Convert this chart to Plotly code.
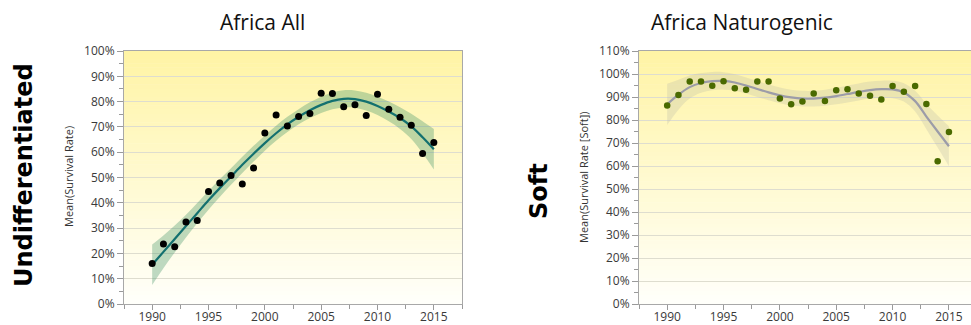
import plotly.graph_objects as go

W, H = 971, 325

years = list(range(1990, 2016))

# Africa All (Undifferentiated) - mean survival rate, %
all_points = [16.0, 23.7, 22.6, 32.4, 33.0, 44.5, 47.8, 50.8, 47.4, 53.8,
              67.6, 74.7, 70.4, 74.1, 75.3, 83.3, 83.2, 78.0, 78.8, 74.5,
              82.9, 77.0, 73.8, 70.7, 59.5, 63.8]
all_fit = [15.5, 20.6, 25.7, 30.8, 35.9, 41.0, 45.8, 50.4, 55.0, 59.4,
           63.6, 67.5, 71.0, 74.0, 76.6, 78.7, 80.3, 81.1, 81.0, 80.0,
           78.3, 76.1, 73.5, 70.2, 65.9, 61.2]
all_low = [7.5, 14.1, 20.4, 26.3, 31.9, 37.3, 42.3, 47.1, 51.8, 56.3,
           60.6, 64.5, 68.0, 71.0, 73.5, 75.5, 77.0, 77.7, 77.6, 76.5,
           74.7, 72.2, 69.2, 65.2, 59.6, 53.2]
all_high = [23.5, 27.1, 31.0, 35.3, 39.9, 44.7, 49.3, 53.7, 58.2, 62.5,
            66.6, 70.5, 74.0, 77.0, 79.7, 81.9, 83.6, 84.5, 84.4, 83.5,
            81.9, 80.0, 77.8, 75.2, 72.2, 69.2]

# Africa Naturogenic (Soft) - mean survival rate, %
soft_points = [86.3, 90.9, 96.7, 96.7, 94.9, 96.8, 93.8, 93.1, 96.7, 96.7,
               89.4, 86.8, 88.0, 91.5, 88.3, 92.9, 93.4, 91.5, 90.5, 88.9,
               94.8, 92.3, 94.8, 87.0, 62.1, 74.8]
soft_fit = [86.8, 91.0, 94.3, 96.1, 96.9, 97.0, 96.3, 95.0, 93.5, 92.0,
            90.7, 89.8, 89.3, 89.3, 89.7, 90.4, 91.3, 92.2, 93.0, 93.4,
            93.3, 92.0, 88.2, 81.5, 75.0, 68.6]
soft_low = [77.8, 84.5, 89.3, 91.8, 92.9, 93.2, 92.7, 91.5, 90.0, 88.6,
            87.3, 86.4, 85.9, 85.9, 86.2, 86.8, 87.6, 88.5, 89.3, 89.7,
            89.5, 88.0, 83.7, 76.0, 68.0, 59.9]
soft_high = [95.8, 97.5, 99.3, 100.4, 100.9, 100.8, 99.9, 98.5, 97.0, 95.4,
             94.1, 93.2, 92.7, 92.7, 93.2, 94.0, 95.0, 95.9, 96.7, 97.1,
             97.1, 96.0, 92.7, 87.0, 82.0, 77.3]

titles = ["Africa All", "Africa Naturogenic"]
row_labels = ["Undifferentiated", "Soft"]
y_titles = ["Mean(Survival Rate)", "Mean(Survival Rate [Soft])"]

FONT = "Open Sans"

def px_x(p):
    return p / W

def px_y(p):
    return 1 - p / H

fig = go.Figure()

# left panel traces
fig.add_trace(go.Scatter(x=years, y=all_high, mode="lines", line=dict(width=0, shape="spline"),
                         hoverinfo="skip", showlegend=False, xaxis="x", yaxis="y"))
fig.add_trace(go.Scatter(x=years, y=all_low, mode="lines", line=dict(width=0, shape="spline"),
                         fill="tonexty", fillcolor="rgba(70,150,105,0.35)",
                         hoverinfo="skip", showlegend=False, xaxis="x", yaxis="y"))
fig.add_trace(go.Scatter(x=years, y=all_fit, mode="lines",
                         line=dict(color="#13706f", width=2.2, shape="spline"),
                         showlegend=False, xaxis="x", yaxis="y"))
fig.add_trace(go.Scatter(x=years, y=all_points, mode="markers",
                         marker=dict(color="#000000", size=7),
                         showlegend=False, xaxis="x", yaxis="y"))

# right panel traces
fig.add_trace(go.Scatter(x=years, y=soft_high, mode="lines", line=dict(width=0, shape="spline"),
                         hoverinfo="skip", showlegend=False, xaxis="x2", yaxis="y2"))
fig.add_trace(go.Scatter(x=years, y=soft_low, mode="lines", line=dict(width=0, shape="spline"),
                         fill="tonexty", fillcolor="rgba(190,190,170,0.30)",
                         hoverinfo="skip", showlegend=False, xaxis="x2", yaxis="y2"))
fig.add_trace(go.Scatter(x=years, y=soft_fit, mode="lines",
                         line=dict(color="#9c9ca8", width=2.2, shape="spline"),
                         showlegend=False, xaxis="x2", yaxis="y2"))
fig.add_trace(go.Scatter(x=years, y=soft_points, mode="markers",
                         marker=dict(color="#4a6a00", size=6.5),
                         showlegend=False, xaxis="x2", yaxis="y2"))

tickfont = dict(family=FONT, size=12, color="#3a3a3a")

def xaxis_cfg(domain, rng, mirror):
    return dict(domain=domain, range=rng, tick0=1990, dtick=5, ticks="outside", ticklen=5,
                tickcolor="#9a9a9a", showline=True, linecolor="#a8a8a8", mirror=mirror,
                showgrid=False, zeroline=False, tickfont=tickfont, automargin=False,
                ticklabelstandoff=-3,
                minor=dict(dtick=2.5, tick0=1987.5, ticks="outside", ticklen=4,
                           tickcolor="#9a9a9a", showgrid=False))

def yaxis_cfg(domain, rng, anchor, mirror):
    return dict(domain=domain, range=rng, anchor=anchor, tick0=0, dtick=10, ticksuffix="%",
                ticks="outside", ticklen=6, tickcolor="#9a9a9a", showline=True,
                linecolor="#a8a8a8", mirror=mirror, showgrid=True, gridcolor="#deddcf",
                gridwidth=1, zeroline=False, tickfont=tickfont, automargin=False,
                minor=dict(dtick=5, ticks="outside", ticklen=4, tickcolor="#9a9a9a",
                           showgrid=False))

ydom = [px_y(304), px_y(51)]
x1dom = [px_x(124), px_x(462)]
x2dom = [px_x(639), 1.0]
x2_right = 1987.5 + (971 - 639) / 11.27

fig.update_layout(
    width=W, height=H, margin=dict(l=0, r=0, t=0, b=0, autoexpand=False),
    paper_bgcolor="white", plot_bgcolor="rgba(0,0,0,0)",
    xaxis=xaxis_cfg(x1dom, [1987.5, 2017.5], True) | dict(anchor="y"),
    yaxis=yaxis_cfg(ydom, [0, 100], "x", True),
    xaxis2=xaxis_cfg(x2dom, [1987.5, x2_right], True) | dict(anchor="y2"),
    yaxis2=yaxis_cfg(ydom, [0, 110], "x2", True),
)

# gradient background bands (yellow at top fading to white)
shapes = []
n = 60
top = (255, 244, 165)
bot = (255, 255, 250)
for xr, yr in (("x domain", "y domain"), ("x2 domain", "y2 domain")):
    for i in range(n):
        t = i / (n - 1)
        c = tuple(round(top[k] + (bot[k] - top[k]) * t) for k in range(3))
        shapes.append(dict(type="rect", xref=xr, yref=yr, x0=0, x1=1,
                           y0=1 - (i + 1) / n, y1=1 - i / n + 0.002,
                           fillcolor="rgb(%d,%d,%d)" % c, line=dict(width=0),
                           layer="below"))
fig.update_layout(shapes=shapes)

def label(text, x, y, font, angle=0):
    return dict(text=text, x=px_x(x), y=px_y(y), xref="paper", yref="paper",
                xanchor="center", yanchor="middle", showarrow=False,
                textangle=angle, font=font)

ann = [
    label(titles[0], 262, 22, dict(family=FONT, size=21, color="#111")),
    label(titles[1], 742, 22, dict(family=FONT, size=21, color="#111")),
    label(row_labels[0], 24, 175, dict(family="DejaVu Sans", size=24, color="#000", weight="bold"), -90),
    label(row_labels[1], 539, 191, dict(family="DejaVu Sans", size=24, color="#000", weight="bold"), -90),
    label(y_titles[0], 68, 177, dict(family=FONT, size=11, color="#333"), -90),
    label(y_titles[1], 583, 177, dict(family=FONT, size=11, color="#333"), -90),
]
fig.update_layout(annotations=ann)

fig.write_html("out.html", config={"displayModeBar": False},
               post_script="document.body.style.margin='0px';")
